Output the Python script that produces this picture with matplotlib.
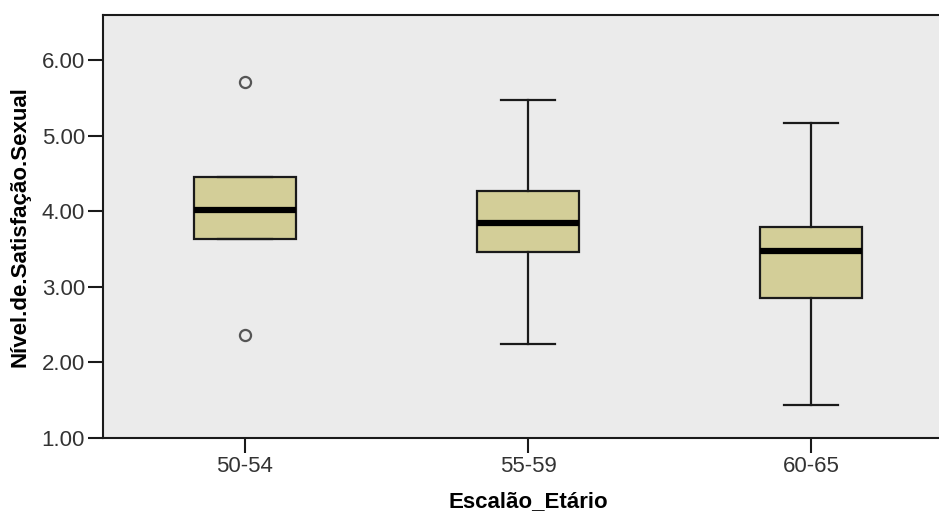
import matplotlib.pyplot as plt

plt.rcParams['font.family'] = ['Liberation Sans', 'DejaVu Sans']

# values
groups = ['50-54', '55-59', '60-65']
whis_low = [3.63, 2.24, 1.44]
q1 = [3.63, 3.46, 2.85]
medians = [4.02, 3.85, 3.47]
q3 = [4.45, 4.27, 3.79]
whis_high = [4.45, 5.47, 5.17]
outliers = [[5.71, 2.36], [], []]

stats = []
for i in range(len(groups)):
    stats.append({'label': groups[i], 'whislo': whis_low[i], 'q1': q1[i],
                  'med': medians[i], 'q3': q3[i], 'whishi': whis_high[i],
                  'fliers': outliers[i]})

fig = plt.figure(figsize=(9.39, 5.15), dpi=100)
ax = fig.add_axes([103 / 939, 77 / 515, 850 / 939, 423 / 515])
ax.set_facecolor('#ebebeb')

ax.bxp(stats, positions=range(len(groups)), widths=0.36, patch_artist=True,
       boxprops=dict(facecolor='#d3ce98', edgecolor='#1a1a1a', linewidth=1.6),
       medianprops=dict(color='black', linewidth=4.5),
       whiskerprops=dict(color='#1a1a1a', linewidth=1.6),
       capprops=dict(color='#1a1a1a', linewidth=1.6),
       capwidths=0.19,
       flierprops=dict(marker='o', markersize=8, markerfacecolor='none',
                       markeredgecolor='#555555', markeredgewidth=1.6))

ax.set_xlim(-0.5, 2.5)
ax.set_ylim(1.0, 6.6)
ax.set_yticks([1, 2, 3, 4, 5, 6])
ax.set_yticklabels(['%.2f' % v for v in [1, 2, 3, 4, 5, 6]])
ax.set_xticks(range(len(groups)))
ax.set_xticklabels(groups)
ax.tick_params(length=11, width=1.5, color='#1a1a1a', labelsize=16,
               labelcolor='#333333', pad=2)

for s in ax.spines.values():
    s.set_linewidth(1.5)
    s.set_color('#1a1a1a')

ax.set_xlabel('Escalão_Etário', fontsize=16, fontweight='bold', labelpad=10)
ax.set_ylabel('Nível.de.Satisfação.Sexual', fontsize=16, fontweight='bold', labelpad=8)

fig.savefig('out.png', dpi=100)
